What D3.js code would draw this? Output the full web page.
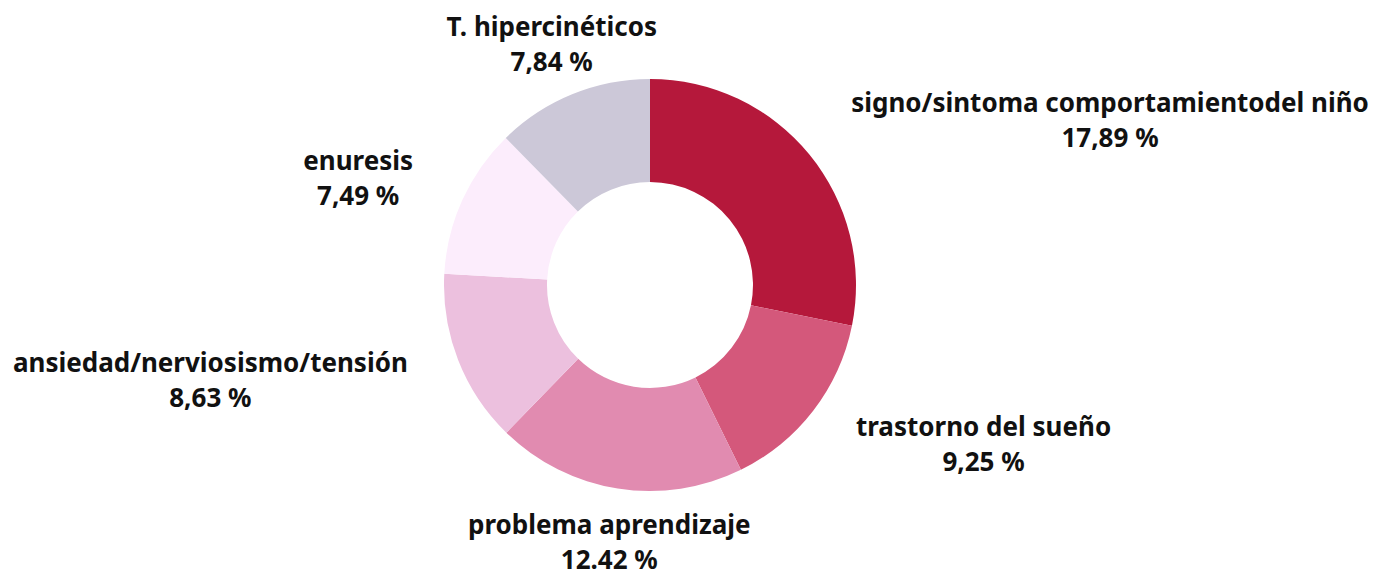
<!DOCTYPE html>
<html>
<head>
<meta charset="utf-8">
<script src="https://cdn.jsdelivr.net/npm/d3@7"></script>
<style>
  html, body { margin: 0; padding: 0; background: #fff; }
  svg { display: block; }
</style>
</head>
<body>
<div id="chart"></div>
<script>
// slices, clockwise from 12 o'clock
const categories = [
  'signo/sintoma comportamientodel niño',
  'trastorno del sueño',
  'problema aprendizaje',
  'ansiedad/nerviosismo/tensión',
  'enuresis',
  'T. hipercinéticos'
]
const values = [17.89, 9.25, 12.42, 8.63, 7.49, 7.84]
const valueLabels = ['17,89 %', '9,25 %', '12.42 %', '8,63 %', '7,49 %', '7,84 %']
const colors = ['#b5183b', '#d4587b', '#e18bb0', '#ecc0de', '#fcedfc', '#ccc8d8']

const width = 1374
const height = 570
const cx = 650
const cy = 285
const outerRadius = 206
const innerRadius = 103
const labelRadius = 260

const svg = d3.select('#chart')
  .append('svg')
  .attr('width', width)
  .attr('height', height)
  .attr('viewBox', [0, 0, width, height].join(' '))

const data = categories.map((name, i) => ({ name, value: values[i], label: valueLabels[i], color: colors[i] }))

const pie = d3.pie()
  .value(d => d.value)
  .sort(null)

const arc = d3.arc()
  .innerRadius(innerRadius)
  .outerRadius(outerRadius)

const labelArc = d3.arc()
  .innerRadius(labelRadius)
  .outerRadius(labelRadius)

const g = svg.append('g').attr('transform', `translate(${cx},${cy})`)

const arcs = pie(data)

g.selectAll('path.slice')
  .data(arcs)
  .join('path')
  .attr('class', 'slice')
  .attr('d', arc)
  .attr('fill', d => d.data.color)

// labels: left/right aligned on the sides, centered near top and bottom
const anchorFor = d => {
  const mid = (d.startAngle + d.endAngle) / 2
  const s = Math.sin(mid)
  if (Math.abs(s) < 0.5) return 'middle'
  return s > 0 ? 'start' : 'end'
}

const label = g.selectAll('text.label')
  .data(arcs)
  .join('text')
  .attr('class', 'label')
  .attr('transform', d => `translate(${labelArc.centroid(d)})`)
  .attr('text-anchor', anchorFor)
  .attr('font-family', '"Noto Sans", sans-serif')
  .attr('font-weight', 'bold')
  .attr('font-size', 26)
  .attr('fill', '#111')

label.append('tspan')
  .attr('x', 0)
  .attr('y', -8)
  .text(d => d.data.name)

label.append('tspan')
  .attr('x', 0)
  .attr('y', 27)
  .attr('text-anchor', 'middle')
  .text(d => d.data.label)

// second line is centered under the first line
label.each(function () {
  const t = d3.select(this)
  const box = t.select('tspan').node().getBBox()
  t.selectAll('tspan').filter((d, i) => i === 1)
    .attr('x', box.x + box.width / 2)
})
</script>
</body>
</html>
